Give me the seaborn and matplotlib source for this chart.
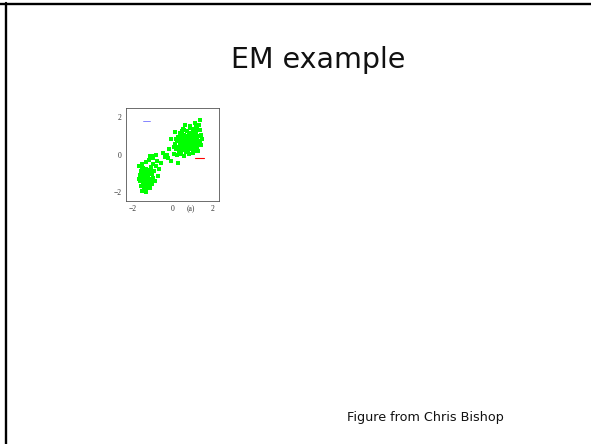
import matplotlib
matplotlib.use('Agg')
import matplotlib.pyplot as plt
import seaborn as sns
import pandas as pd
from matplotlib.lines import Line2D

# ---- data (standardised Old Faithful style) ----
upper_x = [0.10, 0.20, 0.25, 0.30, 0.35, 0.40, 0.45, 0.50, 0.55, 0.60,
           0.65, 0.70, 0.75, 0.80, 0.85, 0.90, 0.95, 1.00, 1.05, 1.10,
           1.15, 1.20, 1.25, 1.30, 1.35, 0.15, 0.30, 0.45, 0.60, 0.75,
           0.90, 1.05, 1.20, 0.35, 0.55, 0.70, 0.85, 1.00, 1.15, 1.30,
           0.63, 0.85, 1.10, 1.35, 0.52, 0.13, -0.10, -0.18, -0.23, 0.27,
           -0.07, 0.05, 0.20, 0.40, 0.55, 0.80, 1.00, 1.25, 1.40, 1.45,
           1.40, 0.65, 0.75, 0.85, 0.95, 0.70, 0.80, 0.90, 1.05, 0.50,
           0.60, 0.95, 1.10, 1.15, 0.40, 0.25, 0.55, 1.25, 1.35, 0.95,
           0.35, 0.65, 1.10, 0.45, 1.20, 0.05, 0.15, 0.80, 1.00, 0.70,
           0.58, 0.88, 1.05, 0.78, 0.48]
upper_y = [0.55, 0.70, 0.40, 0.85, 0.60, 0.95, 0.50, 0.75, 1.05, 0.65,
           0.85, 0.45, 1.00, 0.70, 0.90, 0.55, 1.10, 0.75, 0.95, 0.60,
           1.20, 0.80, 1.00, 0.65, 1.30, 0.30, 0.20, 0.25, 0.30, 0.20,
           0.30, 0.35, 0.40, 1.15, 1.30, 1.25, 1.40, 1.35, 1.50, 1.60,
           1.58, 1.52, 1.70, 1.84, 1.35, 1.19, 0.81, 0.28, -0.19, -0.46,
           -0.34, 0.05, 0.00, 0.05, -0.10, 0.05, 0.10, 0.20, 0.50, 0.85,
           1.05, 0.55, 0.65, 0.75, 0.85, 0.95, 1.05, 1.15, 1.25, 0.40,
           0.95, 0.65, 0.85, 1.05, 0.70, 0.95, 0.55, 0.55, 0.75, 0.45,
           0.35, 0.15, 0.20, 1.25, 1.35, 0.40, 0.85, 0.40, 0.55, 0.75,
           0.82, 1.00, 0.70, 0.52, 0.62]

lower_x = [-1.70, -1.60, -1.55, -1.50, -1.45, -1.40, -1.35, -1.30, -1.25, -1.20,
           -1.15, -1.10, -1.05, -1.00, -1.65, -1.60, -1.50, -1.45, -1.40, -1.35,
           -1.30, -1.25, -1.20, -1.15, -1.10, -1.05, -1.00, -0.95, -0.90, -0.85,
           -1.55, -1.35, -1.20, -1.00, -0.80, -0.70, -0.75, -1.65, -1.70, -1.55,
           -1.38, -1.28, -1.42, -1.22, -1.32, -1.48, -1.18, -1.12, -1.52, -1.36,
           -0.98, -1.15, -0.40, -0.60, -0.50, -0.30, -0.85]
lower_y = [-0.60, -0.90, -1.20, -0.70, -1.00, -1.40, -0.80, -1.10, -1.50, -0.95,
           -1.30, -0.65, -1.05, -0.50, -1.40, -1.70, -1.55, -1.85, -1.65, -2.00,
           -1.80, -1.70, -1.55, -1.80, -1.45, -1.60, -1.25, -0.90, -1.40, -0.60,
           -0.50, -0.40, -0.30, -0.20, -0.35, -0.80, -1.15, -1.10, -1.30, -1.95,
           -1.25, -1.35, -1.15, -1.20, -0.95, -1.30, -1.05, -0.85, -0.85, -1.55,
           -0.10, -0.10, -0.16, -0.45, 0.10, 0.00, -0.05]

# initial component markers (squashed circles in the original)
blue_x = [-1.50, -1.15]
blue_y = [1.80, 1.80]
red_x = [1.10, 1.55]
red_y = [-0.20, -0.20]

df = pd.DataFrame({'x': upper_x + lower_x, 'y': upper_y + lower_y})

sns.set_style("white")
plt.rcParams['font.family'] = ['DejaVu Sans']

fig = plt.figure(figsize=(5.91, 4.44), dpi=100)

# slide frame: only the top and left edges show in the original
fig.add_artist(Line2D([0.0, 1.0], [0.9915, 0.9915], transform=fig.transFigure,
                      color='black', lw=1.7))
fig.add_artist(Line2D([0.0104, 0.0104], [0.0, 0.9935], transform=fig.transFigure,
                      color='black', lw=1.7))

fig.text(0.391, 0.847, "EM example", ha='left', va='baseline', fontsize=20.5,
         family=['DejaVu Sans'], color='#111111')
fig.text(0.587, 0.0525, "Figure from Chris Bishop", ha='left', va='baseline', fontsize=9.2,
         family=['DejaVu Sans'], color='#111111')

ax = fig.add_axes([0.213, 0.547, 0.157, 0.21])
sns.scatterplot(data=df, x='x', y='y', ax=ax, color='#00ff00', s=5, marker='s',
                linewidth=0, legend=False)
ax.plot(blue_x, blue_y, color='#7070ff', lw=0.6)
ax.plot(red_x, red_y, color='red', lw=0.8)

ax.set_xlim(-2.35, 2.3)
ax.set_ylim(-2.5, 2.5)
ax.set_xticks([-2, 0, 2])
ax.set_yticks([-2, 0, 2])
ax.set_xticklabels(['\u22122', '0', '2'], family='Liberation Serif', fontsize=5.5)
ax.set_yticklabels(['\u22122', '0', '2'], family='Liberation Serif', fontsize=5.5)
ax.tick_params(direction='in', length=2, width=0.4, pad=3, colors='#333333')
ax.set_xlabel('')
ax.set_ylabel('')
for sp in ax.spines.values():
    sp.set_linewidth(0.6)
    sp.set_color('#555555')
ax.text(0.9, -2.95, "(a)", ha='center', va='center', fontsize=5.5,
        family='Liberation Serif', color='#333333', clip_on=False)

plt.savefig("out.png", dpi=100)
plt.close()
